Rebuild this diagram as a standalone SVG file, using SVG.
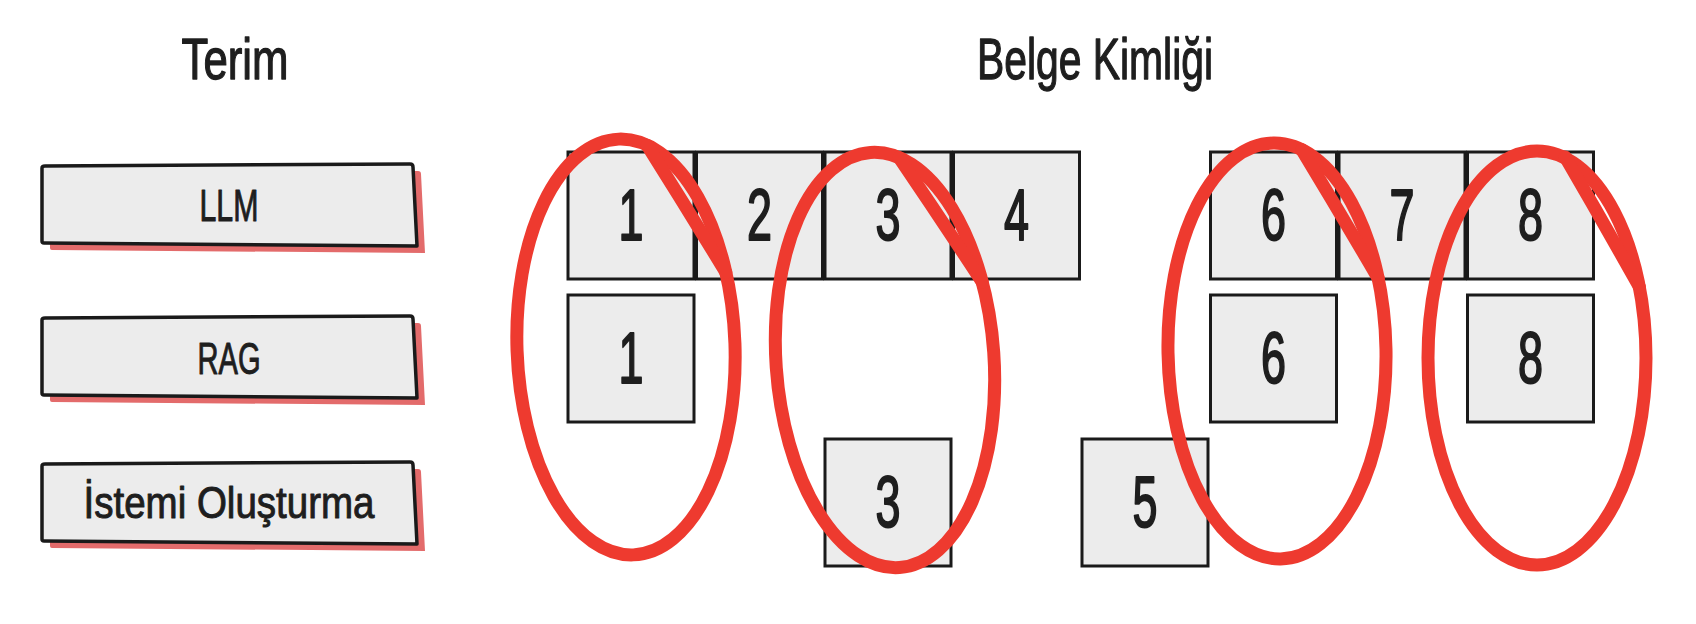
<svg xmlns="http://www.w3.org/2000/svg" width="1696" height="624" viewBox="0 0 1696 624">
<defs>
<style>
.t{font-family:"Liberation Sans",Arial,sans-serif;fill:#1e1e1e;stroke:#1e1e1e;text-anchor:middle;stroke-linejoin:round}
.title{font-size:58px;stroke-width:1.3}
.lbl{font-size:45px;stroke-width:1}
.dg{font-size:72px;stroke-width:2}
.box{fill:#ececec;stroke:#1a1a1a;stroke-width:3.5;stroke-linejoin:round}
.shadow{fill:#e36b6b}
.nb{fill:#ececec;stroke:#1a1a1a;stroke-width:3}
.ring{fill:none;stroke:#ee3a2f;stroke-width:13;stroke-linecap:round}
</style>
<path id="term" d="M0,4 Q0,2 3,2 L368,0 Q371,0 371,3 L375,82 L2,79 Q0,79 0,77 Z"/>
<path id="tail" d="M28.2,-200.9 Q65.6,-136.7 102.4,-71.1"/>
</defs>
<rect width="1696" height="624" fill="#ffffff"/>
<text class="t title" x="235" y="79" textLength="107" lengthAdjust="spacingAndGlyphs">Terim</text>
<text class="t title" x="1095" y="79" textLength="236" lengthAdjust="spacingAndGlyphs">Belge Kimliği</text>
<g id="term-llm">
<use href="#term" class="shadow" x="50" y="171"/>
<use href="#term" class="box" x="42" y="164"/>
<text class="t lbl" x="229" y="221" textLength="59" lengthAdjust="spacingAndGlyphs">LLM</text>
</g>
<g id="term-rag">
<use href="#term" class="shadow" x="50" y="323"/>
<use href="#term" class="box" x="42" y="316"/>
<text class="t lbl" x="229" y="374" textLength="63" lengthAdjust="spacingAndGlyphs">RAG</text>
</g>
<g id="term-prompt">
<use href="#term" class="shadow" x="50" y="469"/>
<use href="#term" class="box" x="42" y="462"/>
<text class="t lbl" x="229" y="518" textLength="291" lengthAdjust="spacingAndGlyphs">İstemi Oluşturma</text>
</g>
<g id="llm-docs">
<rect class="nb" x="568" y="152" width="126" height="127"/>
<rect class="nb" x="696.5" y="152" width="126" height="127"/>
<rect class="nb" x="825" y="152" width="126" height="127"/>
<rect class="nb" x="953.5" y="152" width="126" height="127"/>
<rect class="nb" x="1210.5" y="152" width="126" height="127"/>
<rect class="nb" x="1339" y="152" width="126" height="127"/>
<rect class="nb" x="1467.5" y="152" width="126" height="127"/>
<text class="t dg" x="631" y="240" textLength="25" lengthAdjust="spacingAndGlyphs">1</text>
<text class="t dg" x="759.5" y="240" textLength="25" lengthAdjust="spacingAndGlyphs">2</text>
<text class="t dg" x="888" y="240" textLength="25" lengthAdjust="spacingAndGlyphs">3</text>
<text class="t dg" x="1016.5" y="240" textLength="25" lengthAdjust="spacingAndGlyphs">4</text>
<text class="t dg" x="1273.5" y="240" textLength="25" lengthAdjust="spacingAndGlyphs">6</text>
<text class="t dg" x="1402" y="240" textLength="25" lengthAdjust="spacingAndGlyphs">7</text>
<text class="t dg" x="1530.5" y="240" textLength="25" lengthAdjust="spacingAndGlyphs">8</text>
</g>
<g id="rag-docs">
<rect class="nb" x="568" y="295" width="126" height="127"/>
<rect class="nb" x="1210.5" y="295" width="126" height="127"/>
<rect class="nb" x="1467.5" y="295" width="126" height="127"/>
<text class="t dg" x="631" y="383" textLength="25" lengthAdjust="spacingAndGlyphs">1</text>
<text class="t dg" x="1273.5" y="383" textLength="25" lengthAdjust="spacingAndGlyphs">6</text>
<text class="t dg" x="1530.5" y="383" textLength="25" lengthAdjust="spacingAndGlyphs">8</text>
</g>
<g id="prompt-docs">
<rect class="nb" x="825" y="439" width="126" height="127"/>
<rect class="nb" x="1082" y="439" width="126" height="127"/>
<text class="t dg" x="888" y="527" textLength="25" lengthAdjust="spacingAndGlyphs">3</text>
<text class="t dg" x="1145" y="527" textLength="25" lengthAdjust="spacingAndGlyphs">5</text>
</g>
<g id="highlights">
<g transform="translate(626 347) rotate(-2)">
<ellipse class="ring" cx="0" cy="0" rx="109" ry="208"/>
<use href="#tail" class="ring"/>
</g>
<g transform="translate(885 360) rotate(-4)">
<ellipse class="ring" cx="0" cy="0" rx="109" ry="208"/>
<use href="#tail" class="ring"/>
</g>
<g transform="translate(1277 351) rotate(-1)">
<ellipse class="ring" cx="0" cy="0" rx="109" ry="208"/>
<use href="#tail" class="ring"/>
</g>
<g transform="translate(1537 358)">
<ellipse class="ring" cx="0" cy="0" rx="109" ry="207"/>
<use href="#tail" class="ring"/>
</g>
</g>
</svg>
